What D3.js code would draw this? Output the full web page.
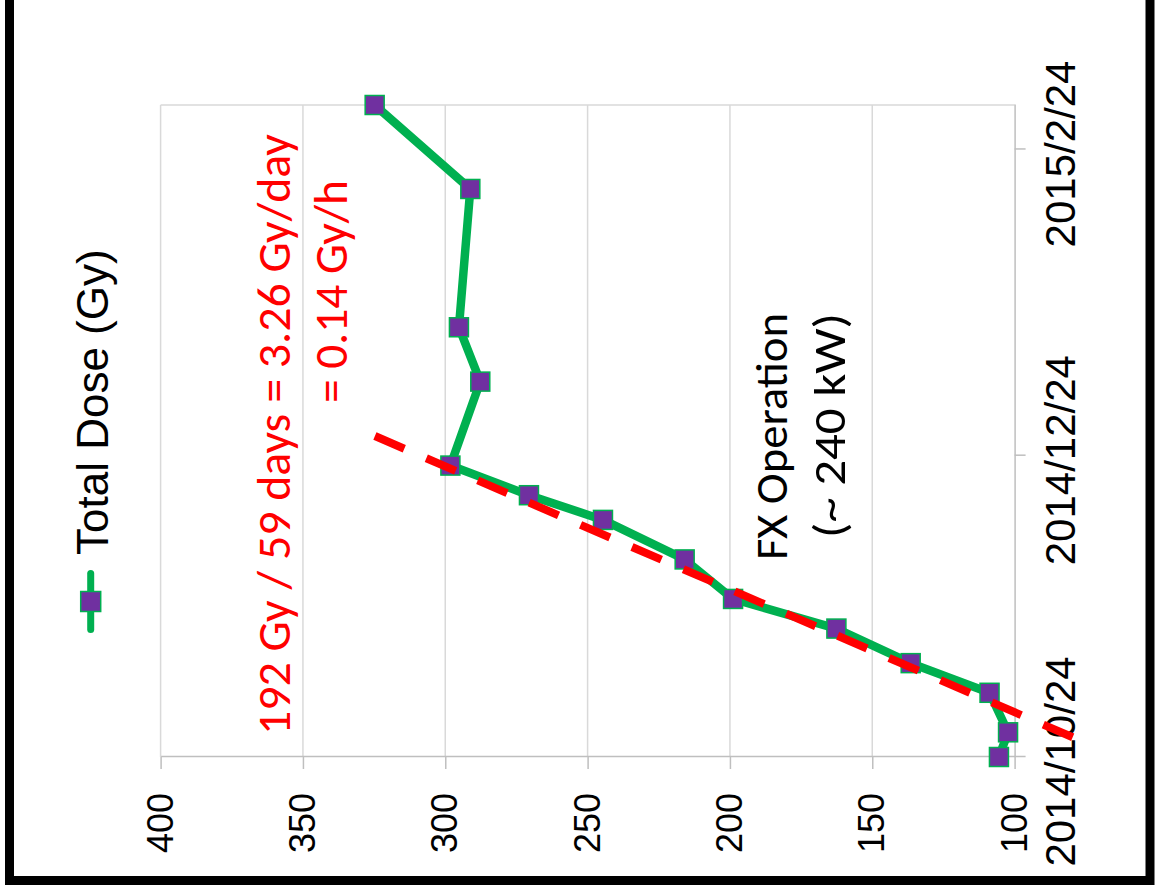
<!DOCTYPE html>
<html>
<head>
<meta charset="utf-8">
<script src="https://cdn.jsdelivr.net/npm/d3@7"></script>
<style>
  body { margin: 0; background: #fff; }
  svg { display: block; }
</style>
</head>
<body>
<svg id="chart"></svg>
<script>
// Total dose readings (Gy), one per date
const dates = ["2014-10-24", "2014-10-29", "2014-11-06", "2014-11-12", "2014-11-19", "2014-11-25", "2014-12-03",
  "2014-12-11", "2014-12-16", "2014-12-22", "2015-01-08", "2015-01-19", "2015-02-16", "2015-03-05"];
const doses = [105.5, 102.3, 108.8, 136.5, 162.6, 198.9, 215.9, 244.6, 270.6, 298.2, 287.7, 295.2, 291.2, 324.8];

// end points of the red dashed trend line
const trendDates = ["2014-10-28", "2014-12-28"];
const trendDoses = [79.6, 324.8];

const doseTicks = [100, 150, 200, 250, 300, 350, 400];
const dateTicks = ["2014-10-24", "2014-12-24", "2015-02-24"];
const dateDomain = ["2014-10-24", "2015-03-05"];

const seriesName = "Total Dose (Gy)";
const noteRate = ["192 Gy / 59 days = 3.26 Gy/day", "= 0.14 Gy/h"];
const noteFx = ["FX Operation", "(~ 240 kW)"];

const parse = d3.utcParse("%Y-%m-%d");
const fmt = d3.utcFormat("%Y/%-m/%-d");
const data = dates.map((d, i) => ({ date: parse(d), dose: doses[i] }));
const trend = trendDates.map((d, i) => ({ date: parse(d), dose: trendDoses[i] }));

const W = 1155, H = 895;
const svg = d3.select("#chart").attr("width", W).attr("height", H);

// the whole chart is turned a quarter turn counter-clockwise,
// so it is drawn in its own upright frame (895 wide, 1155 tall)
const g = svg.append("g").attr("transform", `translate(0,${H}) rotate(-90)`);

const x = d3.scaleUtc().domain(dateDomain.map(parse)).range([138, 790]);
const y = d3.scaleLinear().domain([100, 400]).range([1014.6, 160.6]);

const green = "#00b050", purple = "#7030a0", red = "#ff0000";
const axisFont = "'Liberation Sans', Arial, sans-serif";
const noteFont = "Carlito, Calibri, Lato, sans-serif";

// gridlines
g.append("g")
  .selectAll("line")
  .data(doseTicks.filter(d => d > 100))
  .join("line")
  .attr("x1", x.range()[0]).attr("x2", x.range()[1])
  .attr("y1", d => y(d)).attr("y2", d => y(d))
  .attr("stroke", "#d9d9d9").attr("stroke-width", 1.5);

// plot area right edge
g.append("line")
  .attr("x1", x.range()[1]).attr("x2", x.range()[1])
  .attr("y1", y(400)).attr("y2", y(100))
  .attr("stroke", "#d9d9d9").attr("stroke-width", 1.5);

// value axis
const yAxis = g.append("g")
  .attr("transform", `translate(${x.range()[0]},0)`)
  .call(d3.axisLeft(y).tickValues(doseTicks).tickSize(12).tickSizeOuter(0).tickPadding(24));

// date axis
const xAxis = g.append("g")
  .attr("transform", `translate(0,${y(100)})`)
  .call(d3.axisBottom(x).tickValues(dateTicks.map(parse)).tickFormat(fmt)
    .tickSize(11).tickSizeOuter(0).tickPadding(20));

[yAxis, xAxis].forEach(a => {
  a.select(".domain").attr("stroke", "#bfbfbf").attr("stroke-width", 1.5);
  a.selectAll(".tick line").attr("stroke", "#bfbfbf").attr("stroke-width", 1.5);
  a.selectAll("text").attr("fill", "#000").attr("font-family", axisFont);
});
yAxis.selectAll("text").attr("font-size", 36);
xAxis.selectAll("text").attr("font-size", 42).attr("dx", -5);

// series
const line = d3.line().x(d => x(d.date)).y(d => y(d.dose));

g.append("path")
  .datum(data)
  .attr("d", line)
  .attr("fill", "none")
  .attr("stroke", green)
  .attr("stroke-width", 8.5)
  .attr("stroke-linejoin", "round");

g.append("g")
  .selectAll("rect")
  .data(data)
  .join("rect")
  .attr("x", d => x(d.date) - 9.5)
  .attr("y", d => y(d.dose) - 9.5)
  .attr("width", 19).attr("height", 19)
  .attr("fill", purple)
  .attr("stroke", green).attr("stroke-width", 1.5);

// trend line
g.append("path")
  .datum(trend)
  .attr("d", line)
  .attr("fill", "none")
  .attr("stroke", red)
  .attr("stroke-width", 8)
  .attr("stroke-dasharray", "32,24");

// legend
const lg = g.append("g").attr("transform", "translate(293.5,90.7)");
lg.append("line")
  .attr("x1", -28).attr("x2", 28)
  .attr("stroke", green).attr("stroke-width", 7).attr("stroke-linecap", "round");
lg.append("rect")
  .attr("x", -10).attr("y", -10).attr("width", 20).attr("height", 20)
  .attr("fill", purple).attr("stroke", green).attr("stroke-width", 1.5);
g.append("text")
  .attr("x", 340).attr("y", 108)
  .attr("font-family", axisFont).attr("font-size", 44)
  .text(seriesName);

// notes
g.append("text")
  .attr("x", 160).attr("y", 290)
  .attr("font-family", noteFont).attr("font-size", 47).attr("fill", red)
  .attr("textLength", 601).attr("lengthAdjust", "spacingAndGlyphs")
  .text(noteRate[0]);
g.append("text")
  .attr("x", 492).attr("y", 347)
  .attr("font-family", noteFont).attr("font-size", 47).attr("fill", red)
  .attr("textLength", 223).attr("lengthAdjust", "spacingAndGlyphs")
  .text(noteRate[1]);

g.append("text")
  .attr("x", 582).attr("y", 787).attr("text-anchor", "end")
  .attr("font-family", noteFont).attr("font-size", 46)
  .attr("textLength", 247).attr("lengthAdjust", "spacingAndGlyphs")
  .text(noteFx[0]);
g.append("text")
  .attr("x", 582).attr("y", 845).attr("text-anchor", "end")
  .attr("font-family", noteFont).attr("font-size", 46)
  .attr("textLength", 225).attr("lengthAdjust", "spacingAndGlyphs")
  .text(noteFx[1]);

// outer frame
svg.append("rect")
  .attr("x", 9.5).attr("y", -20)
  .attr("width", 1140.5).attr("height", 900.5)
  .attr("fill", "none").attr("stroke", "#000").attr("stroke-width", 9);
</script>
</body>
</html>
